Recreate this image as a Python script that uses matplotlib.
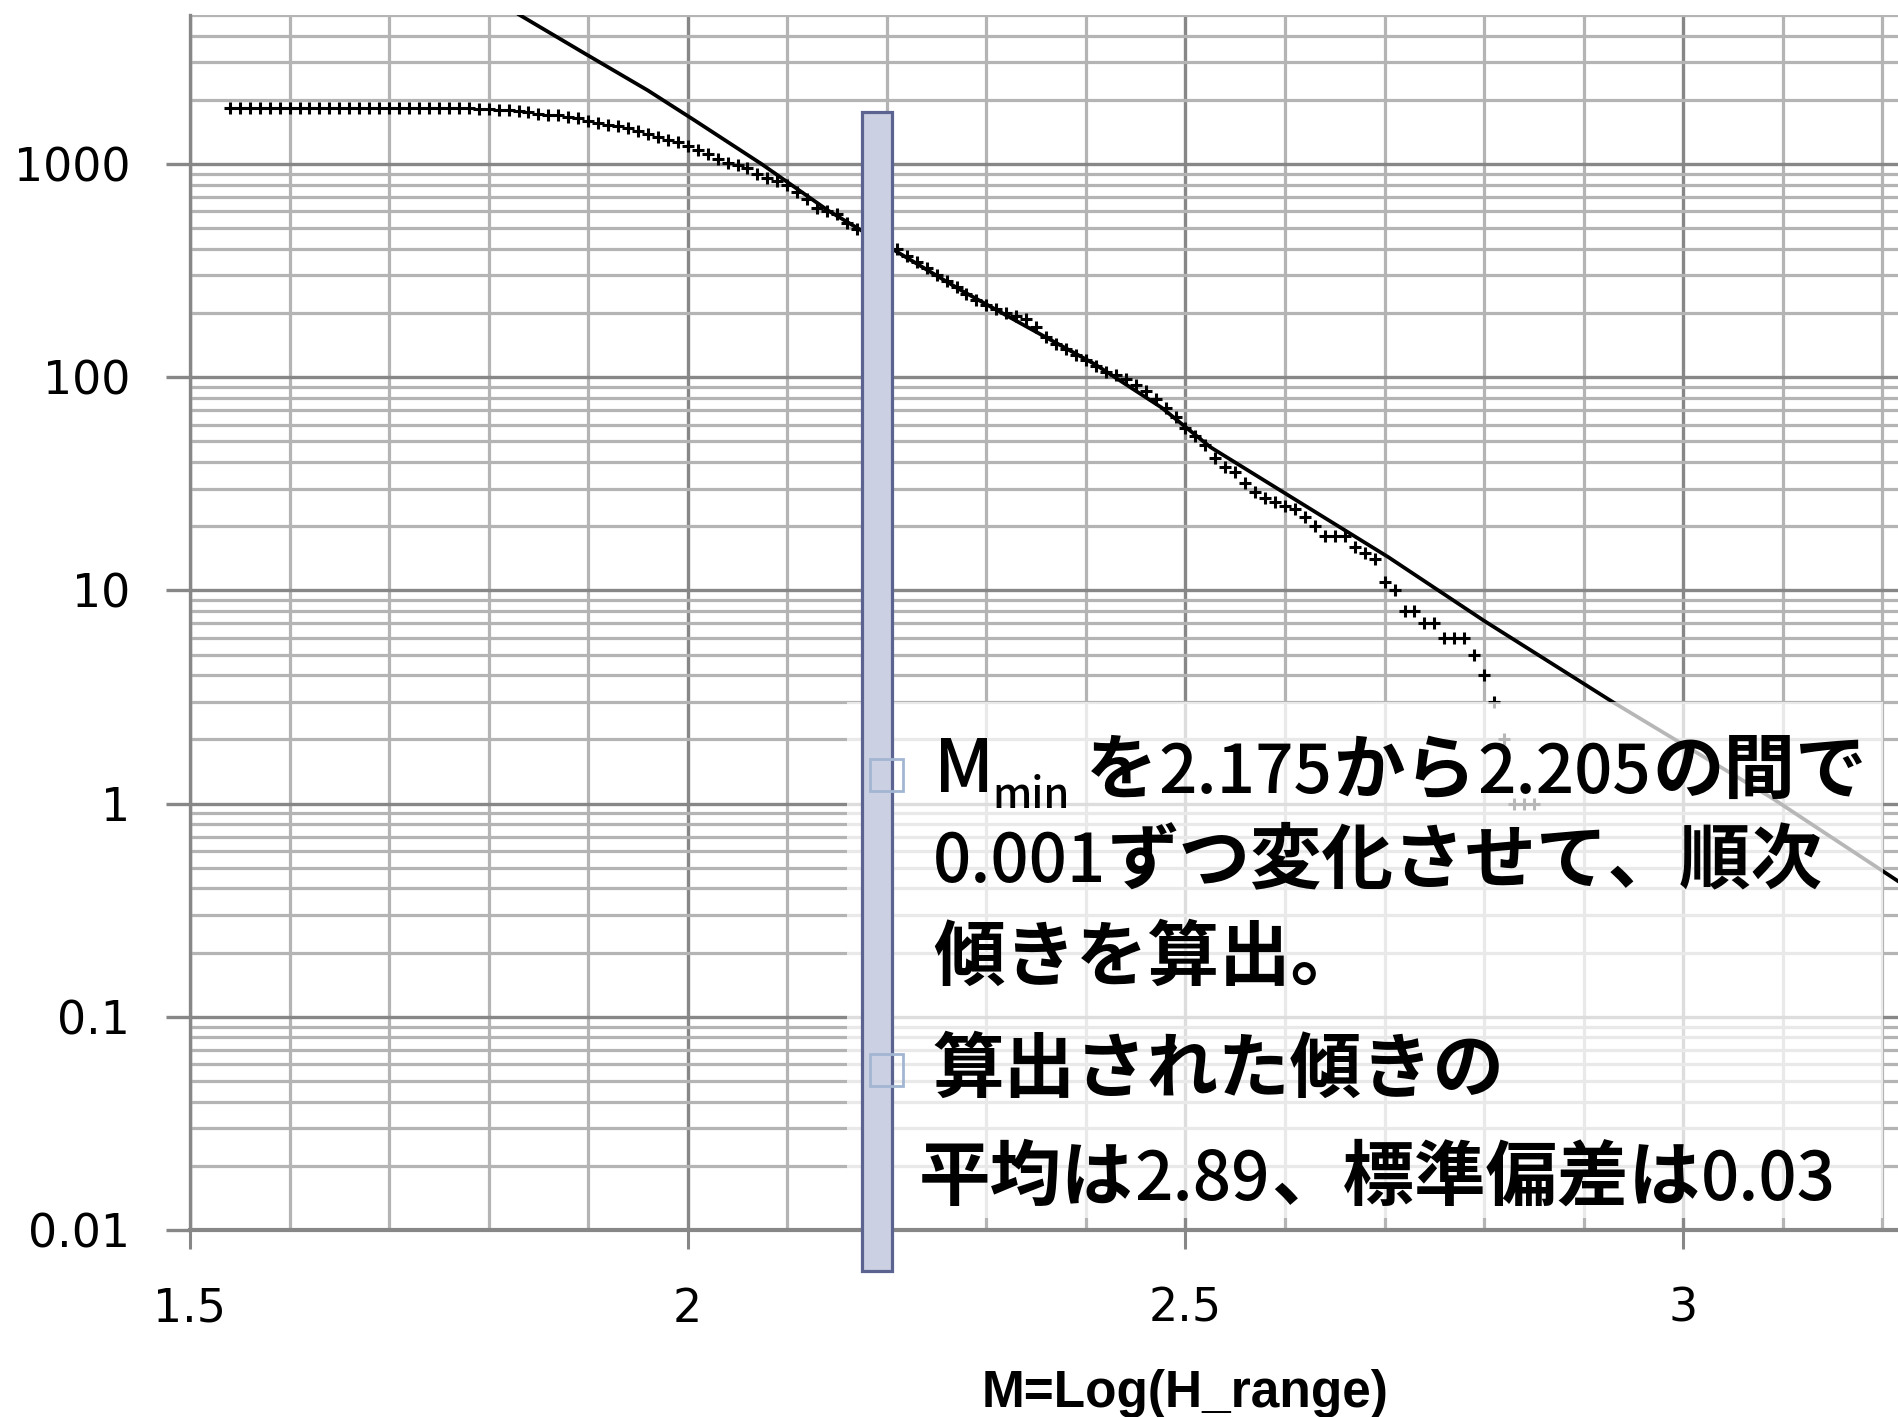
import numpy as np
import matplotlib
matplotlib.use("Agg")
import matplotlib.pyplot as plt
from matplotlib.patches import Rectangle
from matplotlib.ticker import FixedLocator, NullFormatter
from matplotlib.font_manager import FontProperties

# ---------------- data ----------------
# empirical cumulative counts N(M >= m), sampled every 0.01 in M
scatter_M = np.round(np.arange(1.54, 2.851, 0.01), 2)
scatter_N = [1832] * 22 + [
    1830, 1828, 1825, 1820, 1812, 1800, 1785, 1768, 1748, 1725,
    1705, 1690, 1670, 1645, 1600, 1560, 1530, 1505, 1475, 1430,
    1380, 1340, 1300, 1270, 1220, 1160, 1110, 1060, 1010, 985,
    955, 900, 860, 830, 800, 740, 685, 625, 600, 580,
    530, 495, 470, 445, 420, 400, 372, 348, 325, 303,
    283, 266, 245, 230, 218, 210, 200, 193, 188, 172,
    155, 143, 135, 127, 120, 113, 106, 102, 98, 92,
    86, 79, 72, 65, 58, 53, 48, 42, 38, 36,
    32, 29, 27, 26, 25, 24, 22, 20, 18, 18,
    18, 16, 15, 14, 11, 10, 8, 8, 7, 7,
    6, 6, 6, 5, 4, 3, 2, 1, 1, 1]

# fitted power-law line
line_M = [1.829, 1.897, 1.960, 2.007, 2.074, 2.141, 2.208, 2.275, 2.342,
          2.409, 2.476, 2.525, 2.704, 2.800, 2.930, 3.088, 3.22]
line_N = [5070, 3290, 2213, 1601, 1001, 605, 393, 255, 171,
          115, 72, 47, 14.3, 7.2, 2.98, 1.07, 0.42]

# Mmin window
MMIN_LO, MMIN_HI = 2.175, 2.205
BAR_TOP, BAR_BOTTOM = 1750, 0.0064

x_major = [1.5, 2.0, 2.5, 3.0]
x_major_labels = ["1.5", "2", "2.5", "3"]
y_major = [0.01, 0.1, 1, 10, 100, 1000]
y_major_labels = ["0.01", "0.1", "1", "10", "100", "1000"]

line1_rest = "を2.175から2.205の間で"
text_lines = ["0.001ずつ変化させて、順次", "傾きを算出。", "算出された傾きの",
              "平均は2.89、標準偏差は0.03"]
x_label = "M=Log(H_range)"

# ---------------- figure ----------------
W, H = 1899, 1417
fig = plt.figure(figsize=(W / 100, H / 100), dpi=100)
ax = fig.add_axes([190 / W, 1 - 1230 / H, 1 - 190 / W, (1230 - 15) / H])

ax.set_yscale("log")
ax.set_xlim(1.5, 1.5 + 1709 / 995.5)
ax.set_ylim(0.01, 5000)

major_c = "#878787"
minor_c = "#b4b4b4"

ax.xaxis.set_major_locator(FixedLocator(x_major))
ax.set_xticklabels(x_major_labels)
ax.xaxis.set_minor_locator(FixedLocator(np.round(np.arange(1.6, 3.25, 0.1), 1)))
ax.xaxis.set_minor_formatter(NullFormatter())

ax.yaxis.set_major_locator(FixedLocator(y_major))
ax.set_yticklabels(y_major_labels)
minors = [m * 10.0 ** e for e in range(-2, 4) for m in range(2, 10)]
ax.yaxis.set_minor_locator(FixedLocator(minors))
ax.yaxis.set_minor_formatter(NullFormatter())

ax.grid(which="major", axis="both", color=major_c, lw=2.4)
ax.grid(which="minor", axis="both", color=minor_c, lw=2.3)
ax.set_axisbelow(True)

ax.tick_params(axis="y", which="major", length=17, width=2.4, color=major_c,
               pad=26, labelsize=33)
ax.tick_params(axis="x", which="major", length=14, width=2.2, color=major_c,
               pad=27, labelsize=33)
ax.tick_params(which="minor", length=0)
for t in ax.get_xticklabels() + ax.get_yticklabels():
    t.set_family("DejaVu Sans")

for s in ["top", "right"]:
    ax.spines[s].set_visible(False)
ax.spines["left"].set_color(major_c)
ax.spines["left"].set_linewidth(2.4)
ax.spines["bottom"].set_color(major_c)
ax.spines["bottom"].set_linewidth(3.0)

# data
ax.plot(line_M, line_N, color="black", lw=2.7, zorder=3, solid_capstyle="butt")
ax.plot(scatter_M, scatter_N, linestyle="none", marker="+", color="black",
        ms=8.5, mew=2.2, zorder=4)

# x label
ax.set_xlabel(x_label, family=["Liberation Sans", "DejaVu Sans"],
              fontsize=37, fontweight="bold")
ax.xaxis.set_label_coords((2.5 - 1.5) / (1709 / 995.5), -163 / 1215)
ax.xaxis.label.set_va("center")

# semi-transparent white text box
box = Rectangle((847 / W, 1 - 1218 / H), 1036 / W, 516 / H,
                transform=fig.transFigure, facecolor="white", edgecolor="none",
                alpha=0.72, zorder=10, clip_on=False)
ax.add_artist(box)

# Mmin window bar
bar = Rectangle((MMIN_LO, BAR_BOTTOM), MMIN_HI - MMIN_LO, BAR_TOP - BAR_BOTTOM,
                transform=ax.transData, facecolor="#cbd0e3", edgecolor="#5b6490",
                lw=2.3, zorder=11, clip_on=False)
ax.add_artist(bar)

# bullets
for cy in [775, 1070]:
    sq = Rectangle((870 / W, 1 - (cy + 16) / H), 33 / W, 32 / H,
                   transform=fig.transFigure, facecolor="none",
                   edgecolor="#a2b6d2", lw=2.0, zorder=12, clip_on=False)
    ax.add_artist(sq)

# text (CJK runs bold, Latin/digit runs medium), placed run by run
renderer = fig.canvas.get_renderer()
CJK = "Noto Sans CJK JP"
CJK_SIZE, LAT_SIZE = 51.5, 48.5


def split_runs(s):
    runs = []
    for ch in s:
        a = ord(ch) < 128
        if runs and runs[-1][1] == a:
            runs[-1][0] += ch
        else:
            runs.append([ch, a])
    return runs


def draw_runs(x0, ybase, s):
    x = x0
    for r, is_ascii in split_runs(s):
        fp = FontProperties(family=CJK, weight=500 if is_ascii else "bold",
                            size=LAT_SIZE if is_ascii else CJK_SIZE)
        t = fig.text(x / W, 1 - ybase / H, r, fontproperties=fp, ha="left",
                     va="baseline", zorder=13)
        bb = t.get_window_extent(renderer=renderer)
        x = bb.x1 + 1


fig.text(934 / W, 1 - 792 / H, "M", fontproperties=FontProperties(
    family=CJK, weight=500, size=52), ha="left", va="baseline", zorder=13)
fig.text(992 / W, 1 - 808 / H, "min", fontproperties=FontProperties(
    family=CJK, weight=500, size=30), ha="left", va="baseline", zorder=13)
draw_runs(1086, 793, line1_rest)
draw_runs(933, 882, text_lines[0])
draw_runs(933, 980, text_lines[1])
draw_runs(933, 1092, text_lines[2])
draw_runs(919, 1200, text_lines[3])

fig.savefig("out.png", dpi=100)
